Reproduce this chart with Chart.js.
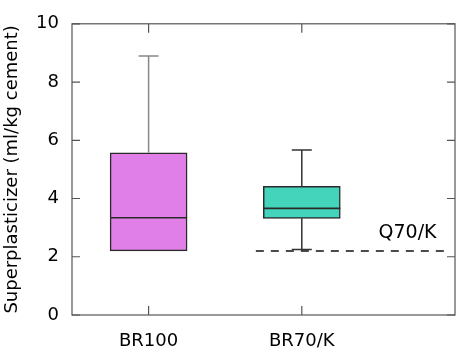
<!DOCTYPE html>
<html>
<head>
<meta charset="utf-8">
<script src="https://cdn.jsdelivr.net/npm/chart.js@4.4.1/dist/chart.umd.min.js"></script>
<style>
  html, body { margin: 0; padding: 0; background: #fff; }
  #wrap { width: 457px; height: 353px; }
</style>
</head>
<body>
<div id="wrap"><canvas id="chart" width="457" height="353"></canvas></div>
<script>
// box plot values
var categories = ['BR100', 'BR70/K'];
var whiskerLow = [2.2, 2.25];
var q1 = [2.2, 3.32];
var median = [3.34, 3.66];
var q3 = [5.57, 4.42];
var whiskerHigh = [8.89, 5.67];
var boxColors = ['#e07fe8', '#44d4bc'];
var whiskerColors = ['#888888', '#333333'];

// reference level (dashed)
var refValue = 2.2;
var refLabel = 'Q70/K';
var refFrom = 0.7, refTo = 1.97;

var yTicks = [0, 2, 4, 6, 8, 10];

var FONT = 'DejaVu Sans';

var boxData = categories.map(function (c, i) {
    return { x: i, y: [q1[i], q3[i]] };
});

// whiskers + medians, drawn through the scales
var boxExtras = {
    id: 'boxExtras',
    afterDatasetsDraw: function (chart) {
        var ctx = chart.ctx, xs = chart.scales.x, ys = chart.scales.y;
        var half = 38.5, cap = 10;
        ctx.save();
        for (var i = 0; i < categories.length; i++) {
            var cx = xs.getPixelForValue(i);
            ctx.strokeStyle = whiskerColors[i];
            ctx.lineWidth = 1.5;
            ctx.beginPath();
            ctx.moveTo(cx, ys.getPixelForValue(q3[i]));
            ctx.lineTo(cx, ys.getPixelForValue(whiskerHigh[i]));
            ctx.moveTo(cx - cap, ys.getPixelForValue(whiskerHigh[i]));
            ctx.lineTo(cx + cap, ys.getPixelForValue(whiskerHigh[i]));
            if (whiskerLow[i] < q1[i]) {
                ctx.moveTo(cx, ys.getPixelForValue(q1[i]));
                ctx.lineTo(cx, ys.getPixelForValue(whiskerLow[i]));
                ctx.moveTo(cx - cap, ys.getPixelForValue(whiskerLow[i]));
                ctx.lineTo(cx + cap, ys.getPixelForValue(whiskerLow[i]));
            }
            ctx.stroke();
            // median
            ctx.strokeStyle = '#2a2a2a';
            ctx.lineWidth = 1.6;
            ctx.beginPath();
            ctx.moveTo(cx - half, ys.getPixelForValue(median[i]));
            ctx.lineTo(cx + half, ys.getPixelForValue(median[i]));
            ctx.stroke();
        }
        // label for the dashed line
        ctx.fillStyle = '#000';
        ctx.font = '19px "' + FONT + '"';
        ctx.textAlign = 'center';
        ctx.textBaseline = 'middle';
        ctx.fillText(refLabel, xs.getPixelForValue(1.69), ys.getPixelForValue(refValue + 0.62));
        ctx.restore();
    },
    afterDraw: function (chart) {
        // frame with inward ticks on all four sides
        var ctx = chart.ctx, a = chart.chartArea, xs = chart.scales.x, ys = chart.scales.y;
        ctx.save();
        ctx.strokeStyle = '#555';
        ctx.lineWidth = 1.2;
        ctx.strokeRect(a.left, a.top, a.right - a.left, a.bottom - a.top);
        ctx.beginPath();
        yTicks.forEach(function (v) {
            var py = ys.getPixelForValue(v);
            ctx.moveTo(a.left, py); ctx.lineTo(a.left + 8, py);
            ctx.moveTo(a.right, py); ctx.lineTo(a.right - 8, py);
        });
        categories.forEach(function (c, i) {
            var px = xs.getPixelForValue(i);
            ctx.moveTo(px, a.bottom); ctx.lineTo(px, a.bottom - 9);
            ctx.moveTo(px, a.top); ctx.lineTo(px, a.top + 9);
        });
        ctx.stroke();
        ctx.restore();
    }
};

var ctx = document.getElementById('chart').getContext('2d');
var chart = new Chart(ctx, {
    type: 'bar',
    data: {
        datasets: [{
            type: 'bar',
            data: boxData,
            backgroundColor: boxColors,
            borderColor: '#2a2a2a',
            borderWidth: 1.5,
            borderSkipped: false,
            barThickness: 77
        }, {
            type: 'line',
            data: [{ x: refFrom, y: refValue }, { x: refTo, y: refValue }],
            borderColor: '#111',
            borderWidth: 1.6,
            borderDash: [8, 7],
            pointRadius: 0,
            fill: false
        }]
    },
    options: {
        responsive: false,
        animation: false,
        layout: { padding: { top: 11, right: 2, left: 0, bottom: 0 } },
        plugins: { legend: { display: false }, tooltip: { enabled: false } },
        scales: {
            x: {
                type: 'linear',
                min: -0.5,
                max: 2,
                offset: false,
                grid: { display: false, drawTicks: false },
                border: { display: false },
                afterBuildTicks: function (axis) {
                    axis.ticks = categories.map(function (c, i) { return { value: i }; });
                },
                afterFit: function (axis) { axis.height = 38; },
                ticks: {
                    autoSkip: false,
                    maxRotation: 0,
                    padding: 16,
                    color: '#000',
                    font: { family: FONT, size: 18 },
                    callback: function (v) { return categories[v]; }
                }
            },
            y: {
                min: 0,
                max: 10,
                grid: { display: false, drawTicks: false },
                border: { display: false },
                afterFit: function (axis) { axis.width = 72; },
                ticks: {
                    stepSize: 2,
                    padding: 13,
                    color: '#000',
                    font: { family: FONT, size: 18 }
                },
                title: {
                    display: true,
                    text: 'Superplasticizer (ml/kg cement)',
                    color: '#000',
                    font: { family: FONT, size: 18 },
                    padding: { top: 2, bottom: 0 }
                }
            }
        }
    },
    plugins: [boxExtras]
});
</script>
</body>
</html>
